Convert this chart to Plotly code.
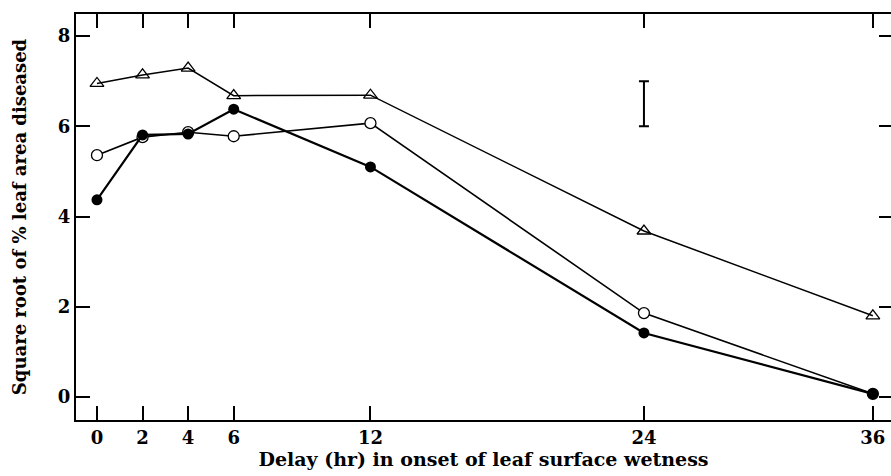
import plotly.graph_objects as go

# ---- data ----
delay_hr = [0, 2, 4, 6, 12, 24, 36]
tick_labels = ["0", "2", "4", "6", "12", "24", "36"]
triangle_open = [6.95, 7.14, 7.29, 6.68, 6.69, 3.68, 1.80]
circle_open = [5.36, 5.76, 5.87, 5.78, 6.07, 1.86, 0.07]
circle_filled = [4.37, 5.81, 5.83, 6.38, 5.10, 1.42, 0.07]
lsd_delay = [24]
lsd_center = [6.5]
lsd_half = [0.5]
y_ticks = [0, 2, 4, 6, 8]

# the original figure compresses the axis after 24 h
def xpos(d):
    return d if d <= 24 else 24 + (d - 24) * 0.837

xs = [xpos(d) for d in delay_hr]
font_family = "DejaVu Serif"

fig = go.Figure()
fig.add_trace(go.Scatter(
    x=xs, y=triangle_open, mode="lines+markers",
    line=dict(color="black", width=1.5),
    marker=dict(symbol="triangle-up-open", size=12, color="black", line=dict(width=1.3)),
    showlegend=False))
fig.add_trace(go.Scatter(
    x=xs, y=circle_open, mode="lines+markers",
    line=dict(color="black", width=1.6),
    marker=dict(symbol="circle", size=11, color="white", line=dict(color="black", width=1.3)),
    showlegend=False))
fig.add_trace(go.Scatter(
    x=xs, y=circle_filled, mode="lines+markers",
    line=dict(color="black", width=2.2),
    marker=dict(symbol="circle", size=11, color="black"),
    showlegend=False))
fig.add_trace(go.Scatter(
    x=[xpos(d) for d in lsd_delay], y=lsd_center, mode="markers",
    marker=dict(size=1, color="rgba(0,0,0,0)"),
    error_y=dict(type="data", array=lsd_half, color="black", thickness=2, width=5),
    showlegend=False))
# invisible trace to hold the right-side tick axis
fig.add_trace(go.Scatter(x=[], y=[], yaxis="y2", showlegend=False))

y_range = [-0.51, 8.49]
fig.update_layout(
    width=891, height=476,
    margin=dict(l=76, r=0, t=14, b=56),
    plot_bgcolor="white", paper_bgcolor="white",
    xaxis=dict(
        range=[-0.92, 34.84], automargin=False,
        tickvals=xs, ticktext=tick_labels,
        ticks="inside", ticklen=14, tickwidth=2, tickcolor="black",
        showline=True, linecolor="black", linewidth=2, mirror="ticks",
        showgrid=False, zeroline=False,
        tickfont=dict(family=font_family, size=18, color="black", weight="bold"),
        title=dict(text="Delay (hr) in onset of leaf surface wetness",
                   font=dict(family=font_family, size=19, color="black", weight="bold"),
                   standoff=2),
    ),
    yaxis=dict(
        range=y_range, tickvals=y_ticks, automargin=False,
        ticks="inside", ticklen=14, tickwidth=2, tickcolor="black",
        showline=True, linecolor="black", linewidth=2, mirror=False,
        showgrid=False, zeroline=False,
        tickfont=dict(family=font_family, size=18, color="black", weight="bold"),
        title=dict(text="Square root of % leaf area diseased",
                   font=dict(family=font_family, size=18, color="black", weight="bold"),
                   standoff=27),
    ),
    yaxis2=dict(
        overlaying="y", side="right", range=y_range, tickvals=y_ticks,
        automargin=False,
        ticks="inside", ticklen=12, tickwidth=2, tickcolor="black",
        showline=False, showgrid=False, zeroline=False, showticklabels=False,
    ),
)
fig.write_html("out.html", config={"displayModeBar": False},
               post_script="document.body.style.margin='0';")
